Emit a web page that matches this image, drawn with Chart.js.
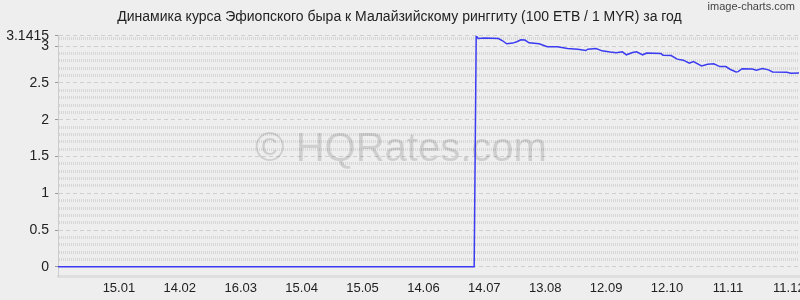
<!DOCTYPE html>
<html><head><meta charset="utf-8">
<script src="https://cdn.jsdelivr.net/npm/chart.js@4/dist/chart.umd.min.js"></script>
<style>html,body{margin:0;padding:0;background:#eeeeee;}#wrap{width:800px;height:300px;}</style>
</head><body><div id="wrap"><canvas id="c" width="800" height="300"></canvas></div>
<script>
const titleText = 'Динамика курса Эфиопского быра к Малайзийскому ринггиту (100 ETB / 1 MYR) за год';
const watermarkText = '© HQRates.com';
const brandText = 'image-charts.com';

// day index from start of period
const days = [0,205,206,207,210,214,217,219,221,224,226,228,230,232,237,241,246,251,256,260,
  261,265,268,272,275,278,280,283,285,288,290,297,298,302,305,308,311,313,317,320,
  323,326,329,331,334,335,337,342,344,347,350,352,359,361,365];
const rates = [0,0,3.1415,3.105,3.11,3.108,3.105,3.074,3.033,3.042,3.06,3.087,3.083,3.046,3.033,2.992,2.992,2.969,2.96,2.941,
  2.96,2.969,2.937,2.92,2.91,2.923,2.883,2.914,2.923,2.883,2.906,2.9,2.878,2.873,2.824,2.81,2.769,2.791,2.732,2.755,
  2.76,2.723,2.723,2.687,2.65,2.654,2.695,2.691,2.673,2.695,2.678,2.65,2.646,2.632,2.637];

const xTickDays = [30,60,90,120,150,180,210,240,270,300,330,360];
const xTickLabels = ['15.01','14.02','16.03','15.04','15.05','14.06','14.07','13.08','12.09','12.10','11.11','11.12'];

const yGridValues = [0,0.1,0.2,0.3,0.4,0.5,0.6,0.7,0.8,0.9,1,1.1,1.2,1.3,1.4,1.5,1.6,1.7,1.8,1.9,2,2.1,2.2,2.3,2.4,2.5,2.6,2.7,2.8,2.9,3,3.1,3.1415];
const yLabelValues = [0,0.5,1,1.5,2,2.5,3,3.1415];
const yLabelTexts = ['0','0.5','1','1.5','2','2.5','3','3.1415'];

const FONT = "'Liberation Sans', Arial, sans-serif";
Chart.defaults.font.family = FONT;

function labelIdx(v){ return yLabelValues.findIndex(m => Math.abs(m - v) < 1e-6); }
function isMajor(ctx){ return ctx.tick ? labelIdx(ctx.tick.value) >= 0 : false; }

const overlay = {
  id: 'overlay',
  beforeDatasetsDraw(chart){
    const c = chart.ctx;
    c.save();
    c.font = '40px ' + FONT;
    c.fillStyle = 'rgba(0,0,0,0.13)';
    c.textAlign = 'center'; c.textBaseline = 'middle';
    c.fillText(watermarkText, 401, 150);
    c.restore();
  },
  afterDraw(chart){
    const c = chart.ctx;
    c.save();
    c.font = '11px ' + FONT;
    c.fillStyle = '#444';
    c.textAlign = 'right'; c.textBaseline = 'middle';
    c.fillText(brandText, 795, 7);
    c.restore();
  }
};

new Chart(document.getElementById('c'), {
  type: 'line',
  data: {
    datasets: [{
      data: days.map((d, i) => ({x: d, y: rates[i]})),
      borderColor: '#3b3bf2',
      borderWidth: 1.5,
      pointRadius: 0,
      tension: 0,
      fill: false
    }]
  },
  options: {
    responsive: false,
    animation: false,
    devicePixelRatio: 1,
    layout: { padding: { left: 0, right: 1, top: 0, bottom: 0 }, autoPadding: false },
    plugins: {
      legend: { display: false },
      tooltip: { enabled: false },
      title: {
        display: true, text: titleText, color: '#222',
        font: { family: FONT, size: 14, weight: 'normal' },
        padding: { top: 9, bottom: 10 }
      }
    },
    scales: {
      x: {
        type: 'linear', min: 0, max: 365,
        afterBuildTicks: s => { s.ticks = xTickDays.map(v => ({ value: v })); },
        afterFit: s => { s.paddingLeft = 0; s.paddingRight = 0; },
        ticks: {
          autoSkip: false, maxRotation: 0, padding: 4, color: '#222',
          font: { family: FONT, size: 13 },
          callback: v => xTickLabels[xTickDays.indexOf(v)]
        },
        grid: { display: false, drawTicks: false },
        border: { display: true, color: '#dfdfdf', width: 3 }
      },
      y: {
        min: -0.13, max: 3.1415,
        afterBuildTicks: s => { s.ticks = yGridValues.map(v => ({ value: v })); },
        afterFit: s => { s.width = 58; s.paddingTop = 0; s.paddingBottom = 0; },
        ticks: {
          autoSkip: false, padding: 1, color: '#222',
          font: { family: FONT, size: 14 },
          callback: v => { const i = labelIdx(v); return i >= 0 ? yLabelTexts[i] : ''; }
        },
        grid: {
          color: ctx => isMajor(ctx) ? '#cfcfcf' : '#d7d7d7',
          lineWidth: ctx => isMajor(ctx) ? 1 : 3,
          tickLength: 8,
          tickWidth: 1,
          tickColor: ctx => isMajor(ctx) ? '#9a9a9a' : 'rgba(0,0,0,0)',
          tickBorderDash: [3, 5],
          tickBorderDashOffset: 3
        },
        border: {
          display: true, color: '#cccccc', width: 1,
          dash: ctx => isMajor(ctx) ? [4, 3] : [1, 1]
        }
      }
    }
  },
  plugins: [overlay]
});
</script>
</body></html>
